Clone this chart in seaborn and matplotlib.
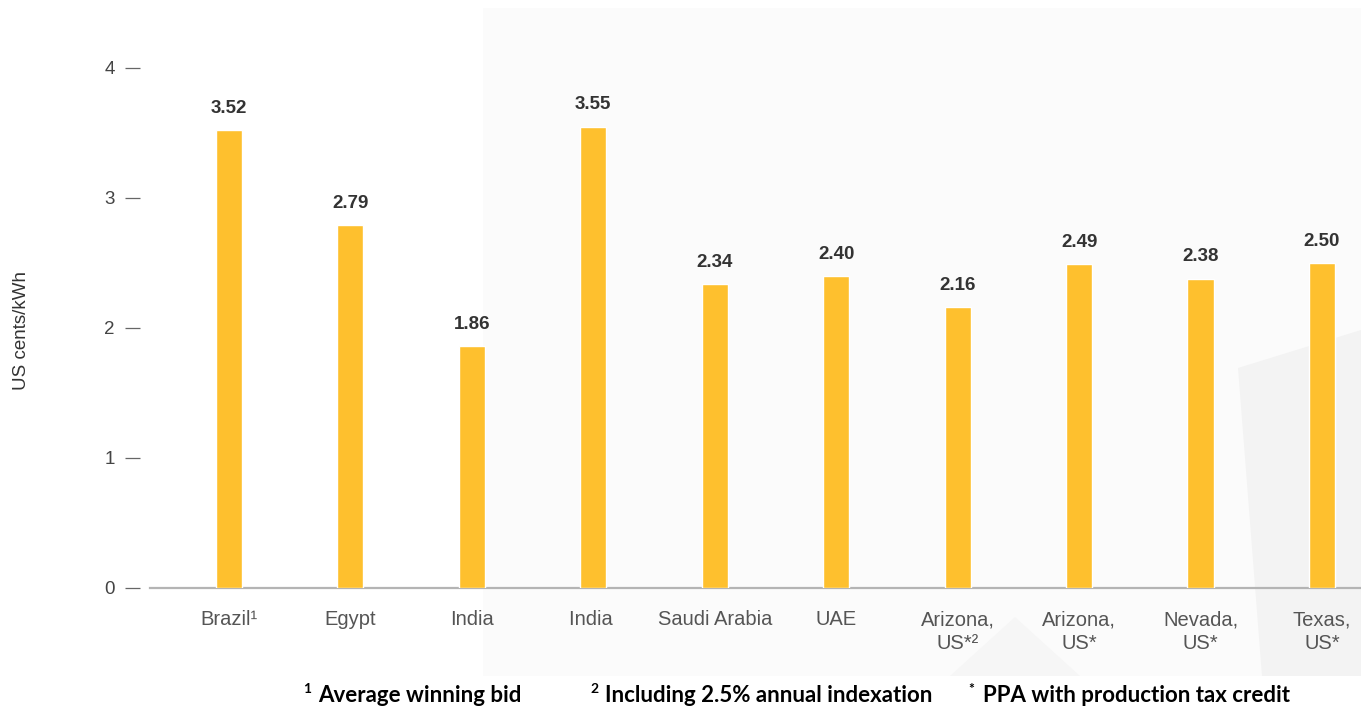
import matplotlib
matplotlib.use("Agg")
import matplotlib.pyplot as plt
from matplotlib.patches import Rectangle, Polygon
import seaborn as sns
import pandas as pd

# Solar auction / PPA prices
categories = ["Brazil\u00b9", "Egypt", "India", "India ", "Saudi Arabia", "UAE",
              "Arizona,\nUS*\u00b2", "Arizona,\nUS*", "Nevada,\nUS*", "Texas,\nUS*"]
prices = [3.52, 2.79, 1.86, 3.55, 2.34, 2.40, 2.16, 2.49, 2.38, 2.50]
value_labels = ["3.52", "2.79", "1.86", "3.55", "2.34", "2.40", "2.16", "2.49", "2.38", "2.50"]
y_ticks = [0, 1, 2, 3, 4]
y_label = "US cents/kWh"
footnotes = [("1", "Average winning bid"),
             ("2", "Including 2.5% annual indexation"),
             ("*", "PPA with production tax credit")]

df = pd.DataFrame({"category": categories, "price": prices})

W, H, DPI = 1361, 707, 100
sns.set_theme(style="white")
plt.rcParams["font.family"] = ["Liberation Sans", "DejaVu Sans"]

fig = plt.figure(figsize=(W / DPI, H / DPI), dpi=DPI)
fig.patch.set_facecolor("white")

# light backdrop panel with faint facets
fig.add_artist(Rectangle((483 / W, 1 - 676 / H), (W - 483) / W, (676 - 8) / H,
                         transform=fig.transFigure, facecolor="#fbfbfb",
                         edgecolor="none", zorder=0))
fig.add_artist(Polygon([(1238 / W, 1 - 368 / H), (1361 / W, 1 - 330 / H),
                        (1361 / W, 1 - 676 / H), (1262 / W, 1 - 676 / H)],
                       closed=True, transform=fig.transFigure,
                       facecolor="#f3f3f3", edgecolor="none", zorder=0))
fig.add_artist(Polygon([(1015 / W, 1 - 617 / H), (1080 / W, 1 - 676 / H),
                        (950 / W, 1 - 676 / H)],
                       closed=True, transform=fig.transFigure,
                       facecolor="#f6f6f6", edgecolor="none", zorder=0))

left_px, right_px, top_px, bottom_px = 150, 1361, 40, 588
ax = fig.add_axes([left_px / W, 1 - bottom_px / H,
                   (right_px - left_px) / W, (bottom_px - top_px) / H])
ax.patch.set_alpha(0)

sns.barplot(data=df, x="category", y="price", color="#FEC02E", width=0.215,
            saturation=1, ax=ax, zorder=3)

ax.set_ylim(0, (588 - 40) / 130)
ax.set_xlim(-0.65, 9 + (1361 - 1322) / 121.4)

for i, (v, lab) in enumerate(zip(prices, value_labels)):
    ax.annotate(lab, (i, v), xytext=(0, 9.5), textcoords="offset points",
                ha="center", va="bottom", fontsize=13.5, color="#333333",
                fontweight="bold")

for s in ["top", "right", "left"]:
    ax.spines[s].set_visible(False)
ax.spines["bottom"].set_color("#b4b4b4")
ax.spines["bottom"].set_linewidth(1.6)
ax.spines["left"].set_position(("outward", 7))

ax.set_yticks(y_ticks)
ax.set_yticklabels([str(t) for t in y_ticks])
ax.tick_params(axis="y", left=True, length=10.5, width=0.9, color="#666666",
               pad=8, labelsize=13.5, labelcolor="#444444")
ax.tick_params(axis="x", bottom=False, length=0, pad=16, labelsize=14.5,
               labelcolor="#555555")
for t in ax.get_xticklabels():
    t.set_linespacing(1.35)
    t.set_va("top")

ax.set_xlabel("")
ax.set_ylabel(y_label, fontsize=13.5, color="#333333", labelpad=0)
ax.yaxis.set_label_coords((30 - left_px) / (right_px - left_px), 0.47)

# footnotes
foot_x = [303, 590, 968]
for (mark, text), x0 in zip(footnotes, foot_x):
    fig.text(x0 / W, 1 - 693 / H, mark, fontsize=10, fontweight="bold",
             family=["Lato", "DejaVu Sans"], color="black", ha="left", va="baseline")
    fig.text((x0 + 15) / W, 1 - 702 / H, text, fontsize=16, fontweight="bold",
             family=["Lato", "DejaVu Sans"], color="black", ha="left", va="baseline")

fig.savefig("out.png", dpi=DPI)
